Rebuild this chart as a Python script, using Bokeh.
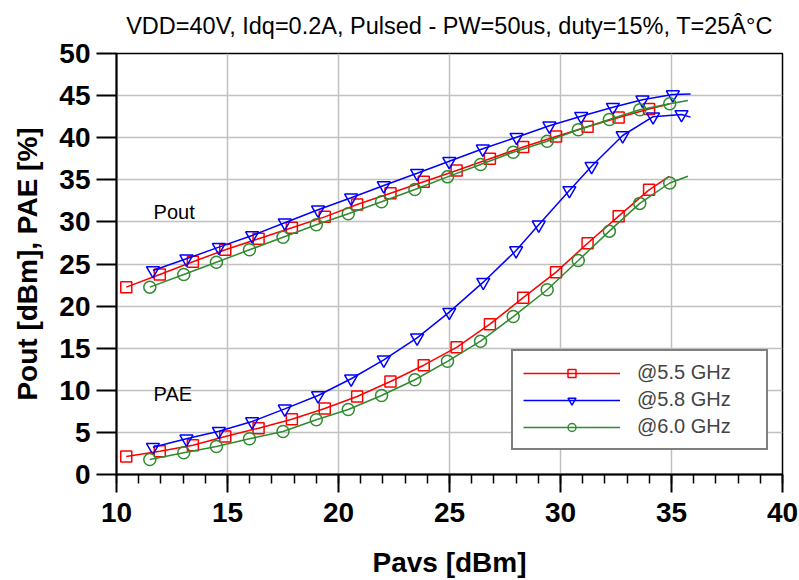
from bokeh.plotting import figure
from bokeh.models import FixedTicker, Legend, LegendItem, Label, Range1d
from bokeh.embed import file_html
from bokeh.resources import INLINE

# ---------------- data (last value of each list = curve end, no marker) -------------
x_55 = [10.44, 11.95, 13.44, 14.9, 16.4, 17.9, 19.38, 20.84, 22.34, 23.84, 25.32,
        26.82, 28.32, 29.8, 31.22, 32.62, 33.99, 34.9]
pout_55 = [22.25, 23.75, 25.26, 26.7, 28.0, 29.3, 30.6, 32.07, 33.4, 34.76, 36.1,
           37.5, 38.9, 40.14, 41.3, 42.4, 43.4, 44.0]
pae_55 = [2.14, 2.77, 3.48, 4.51, 5.5, 6.57, 7.84, 9.26, 11.05, 12.98, 15.1,
          17.85, 21.0, 24.03, 27.47, 30.68, 33.81, 35.4]

x_58_pout = [11.64, 13.15, 14.61, 16.11, 17.58, 19.08, 20.57, 22.04, 23.54, 24.99,
             26.5, 28.02, 29.5, 30.93, 32.36, 33.69, 35.06, 35.86]
pout_58 = [24.23, 25.62, 27.0, 28.38, 29.9, 31.44, 32.86, 34.32, 35.78, 37.2,
           38.68, 40.06, 41.41, 42.55, 43.62, 44.5, 45.13, 45.2]
x_58_pae = [11.64, 13.15, 14.61, 16.11, 17.58, 19.08, 20.57, 22.04, 23.54, 24.99,
            26.52, 28.0, 29.02, 30.4, 31.4, 32.8, 34.17, 35.45, 35.86]
pae_58 = [3.24, 4.24, 5.14, 6.29, 7.8, 9.38, 11.37, 13.62, 16.23, 19.28,
          22.84, 26.6, 29.66, 33.73, 36.6, 40.26, 42.5, 42.76, 42.44]

x_60 = [11.5, 13.03, 14.5, 15.99, 17.5, 19.0, 20.44, 21.94, 23.44, 24.91, 26.4,
        27.87, 29.4, 30.8, 32.2, 33.57, 34.92, 35.74]
pout_60 = [22.25, 23.75, 25.21, 26.69, 28.18, 29.66, 30.96, 32.39, 33.85, 35.35,
           36.82, 38.28, 39.58, 40.94, 42.16, 43.31, 44.03, 44.42]
pae_60 = [1.78, 2.58, 3.33, 4.24, 5.11, 6.5, 7.72, 9.38, 11.25, 13.44, 15.83,
          18.76, 21.94, 25.42, 28.9, 32.2, 34.62, 35.43]

x_ticks = [10, 15, 20, 25, 30, 35, 40]
x_minor = list(range(10, 41))
y_ticks = [0, 5, 10, 15, 20, 25, 30, 35, 40, 45, 50]
series_names = ["@5.5 GHz", "@5.8 GHz", "@6.0 GHz"]
title_text = "VDD=40V, Idq=0.2A, Pulsed - PW=50us, duty=15%, T=25Â°C"

FONT = "Liberation Sans"
RED, BLUE, GREEN = "#ff0000", "#0000ff", "#2e8b2e"

p = figure(width=799, height=580, output_backend="svg", toolbar_location=None,
           x_range=Range1d(10, 40), y_range=Range1d(0, 50),
           min_border_left=116, min_border_right=17, min_border_top=53,
           min_border_bottom=106, background_fill_color="white",
           border_fill_color="white")

p.title.text = title_text
p.title.align = "center"
p.title.vertical_align = "top"
p.title.text_font = FONT
p.title.text_font_size = "23.5px"
p.title.text_font_style = "normal"
p.title.text_color = "black"
p.title.standoff = 25

p.outline_line_color = "black"
p.outline_line_width = 1.5

# axes
for ax in (p.xaxis[0], p.yaxis[0]):
    ax.axis_line_width = 2
    ax.axis_line_color = "black"
    ax.major_tick_line_width = 2
    ax.major_tick_line_color = "black"
    ax.minor_tick_line_width = 1.5
    ax.minor_tick_line_color = "black"
    ax.major_tick_in = 0
    ax.minor_tick_in = 0
    ax.major_label_text_font = FONT
    ax.major_label_text_font_style = "bold"
    ax.major_label_text_font_size = "28px"
    ax.major_label_text_color = "black"
    ax.axis_label_text_font = FONT
    ax.axis_label_text_font_style = "bold"
    ax.axis_label_text_font_size = "28px"
    ax.axis_label_text_color = "black"

p.xaxis.ticker = FixedTicker(ticks=x_ticks, minor_ticks=x_minor)
p.xaxis.major_tick_out = 18
p.xaxis.minor_tick_out = 9
p.xaxis.major_label_standoff = 10
p.xaxis.axis_label = "Pavs [dBm]"
p.xaxis.axis_label_standoff = 22

p.yaxis.ticker = FixedTicker(ticks=y_ticks, minor_ticks=[])
p.yaxis.major_tick_out = 20
p.yaxis.minor_tick_out = 0
p.yaxis.major_label_standoff = 6
p.yaxis.axis_label = "Pout [dBm], PAE [%]"
p.yaxis.axis_label_standoff = 13

for g in (p.xgrid[0], p.ygrid[0]):
    g.grid_line_color = "#c0c0c0"
    g.grid_line_width = 1.5

items = []
specs = [
    (RED, "square", [(x_55, pout_55), (x_55, pae_55)], 11),
    (BLUE, "inverted_triangle", [(x_58_pout, pout_58), (x_58_pae, pae_58)], 13),
    (GREEN, "circle", [(x_60, pout_60), (x_60, pae_60)], 12),
]
for (color, marker, curves, msize), name in zip(specs, series_names):
    rends = []
    for xs, ys in curves:
        ln = p.line(xs, ys, line_color=color, line_width=1.5)
        sc = p.scatter(xs[:-1], ys[:-1], marker=marker, size=msize,
                       line_color=color, line_width=1.5, fill_color=None)
        rends.extend([ln, sc])
    items.append(LegendItem(label=name, renderers=rends[:2]))

legend = Legend(items=items, location=(395, 24), glyph_width=97, glyph_height=20,
                label_standoff=17, padding=10, spacing=4, label_width=119,
                label_height=20, margin=0,
                label_text_font=FONT, label_text_font_size="20px",
                border_line_color="black", border_line_width=2,
                background_fill_color="white", background_fill_alpha=1.0)
p.add_layout(legend)

p.add_layout(Label(x=11.67, y=29.9, text="Pout", text_font=FONT,
                   text_font_size="20px", text_color="black"))
p.add_layout(Label(x=11.67, y=8.3, text="PAE", text_font=FONT,
                   text_font_size="20px", text_color="black"))

open("out.html", "w").write(file_html(p, INLINE))
